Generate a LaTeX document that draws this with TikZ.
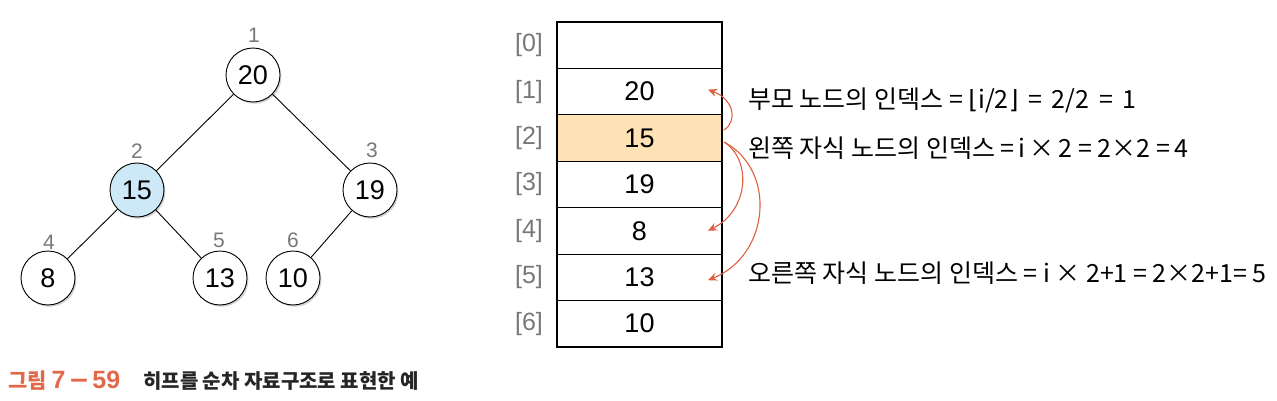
\documentclass[tikz,border=0pt]{standalone}
\usepackage{fontspec}
\setmainfont{Liberation Sans}
\newfontfamily\kr{Noto Sans CJK KR}
\newfontfamily\dv{DejaVu Sans}
\usetikzlibrary{arrows.meta,shadows,calc}
\definecolor{idxgray}{RGB}{120,120,120}
\definecolor{hlblue}{RGB}{205,233,248}
\definecolor{hlorange}{RGB}{252,226,180}
\definecolor{redarrow}{RGB}{222,96,66}
\definecolor{capred}{RGB}{226,104,74}
\tikzset{
  tnode/.style={circle, draw=black, line width=0.9pt, fill=white, minimum size=54pt, inner sep=0pt,
    font=\fontsize{27}{27}\selectfont, drop shadow={opacity=0.35, shadow xshift=1.5pt, shadow yshift=-1.8pt}},
  tidx/.style={text=idxgray, font=\fontsize{21}{21}\selectfont, inner sep=0pt},
  tedge/.style={line width=0.9pt},
  cell/.style={draw=black, line width=1pt, minimum width=165pt, minimum height=46.4pt, inner sep=0pt, outer sep=0pt,
    font=\fontsize{27}{27}\selectfont},
  aidx/.style={text=idxgray, font=\fontsize{25}{25}\selectfont, inner sep=0pt},
  rarrow/.style={draw=redarrow, line width=1.1pt, -{Stealth[length=9pt,width=8pt]}},
  formula/.style={anchor=west, inner sep=0pt, font=\kr\fontsize{25}{25}\selectfont}
}
\begin{document}
\begin{tikzpicture}[x=1pt,y=-1pt]
\useasboundingbox (0,0) rectangle (1277,401);
% tree
\node[tnode] (n1) at (253,75) {20};
\node[tnode, fill=hlblue] (n2) at (137,190) {15};
\node[tnode] (n3) at (370,190) {19};
\node[tnode] (n4) at (48,278) {8};
\node[tnode] (n5) at (220,278) {13};
\node[tnode] (n6) at (293,278) {10};
\draw[tedge] (n1) -- (n2);
\draw[tedge] (n1) -- (n3);
\draw[tedge] (n2) -- (n4);
\draw[tedge] (n2) -- (n5);
\draw[tedge] (n3) -- (n6);
\node[tidx] (l1) at (254,35) {1};
\node[tidx] (l2) at (137,151) {2};
\node[tidx] (l3) at (372,150) {3};
\node[tidx] (l4) at (49,242) {4};
\node[tidx] (l5) at (219,240) {5};
\node[tidx] (l6) at (293,240) {6};
% array
\node[cell] (r0) at (639.5,45.2) {};
\node[cell] (r1) at (639.5,91.6) {20};
\node[cell, fill=hlorange] (r2) at (639.5,138) {15};
\node[cell] (r3) at (639.5,184.4) {19};
\node[cell] (r4) at (639.5,230.8) {8};
\node[cell] (r5) at (639.5,277.2) {13};
\node[cell] (r6) at (639.5,323.6) {10};
\draw[line width=2.2pt] (r0.north west) rectangle (r6.south east);
\node[aidx] (i0) at (529,45.2) {[0]};
\node[aidx] (i1) at (529,91.6) {[1]};
\node[aidx] (i2) at (529,138) {[2]};
\node[aidx] (i3) at (529,184.4) {[3]};
\node[aidx] (i4) at (529,230.8) {[4]};
\node[aidx] (i5) at (529,277.2) {[5]};
\node[aidx] (i6) at (529,323.6) {[6]};
% arrows
\coordinate (s1) at ($(r2.east)+(2,-8)$);
\coordinate (s2) at ($(r2.east)+(2,4)$);
\coordinate (e1) at ($(r1.east)+(-14,-2)$);
\coordinate (e2) at ($(r4.east)+(-14,0)$);
\coordinate (e3) at ($(r5.east)+(-14,3)$);
\draw[rarrow] (s1) .. controls (737,122) and (735,100) .. (e1);
\draw[rarrow] (s2) .. controls (752,160) and (749,210) .. (e2);
\draw[rarrow] (s2) .. controls (777,170) and (770,255) .. (e3);
% formulas
\node[formula] (f1) at (748,100) {부모 노드의 인덱스 = {\dv⌊}i/2{\dv⌋} \,=\, 2/2 \,=\, 1};
\node[formula] (f2) at (748,148) {왼쪽 자식 노드의 인덱스 =\,i\,×\,2 = 2×2 =\,4};
\node[formula] (f3) at (748,273) {오른쪽 자식 노드의 인덱스 = i × 2+1 = 2×2+1= 5};
% caption
\node[anchor=west, inner sep=0pt, text=capred, font=\kr\bfseries\fontsize{21}{21}\selectfont] (c1) at (8,381) {그림 {\rmfamily\bfseries\fontsize{25}{25}\selectfont 7\kern3pt{\dv\bfseries −}\kern3pt59}};
\node[anchor=west, inner sep=0pt, text=black!85, font=\kr\bfseries\fontsize{20}{20}\selectfont] (c2) at (143,381) {히프를 순차 자료구조로 표현한 예};
\end{tikzpicture}
\end{document}
